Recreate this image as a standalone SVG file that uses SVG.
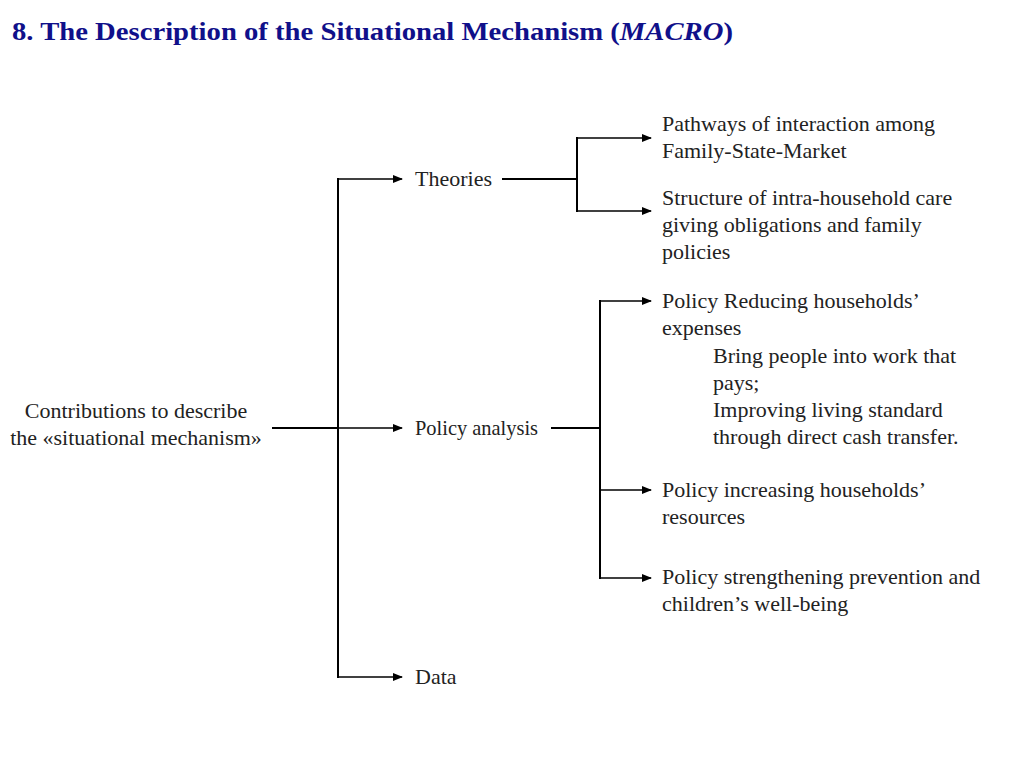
<svg xmlns="http://www.w3.org/2000/svg" width="1024" height="768" viewBox="0 0 1024 768">
<style>
.t{font-family:"Liberation Serif","Times New Roman",serif;font-size:22px;fill:#222}
.title{font-family:"Liberation Serif","Times New Roman",serif;font-size:26px;font-weight:bold;fill:#10108a}
.c{stroke:#000;stroke-width:2;fill:none}
.a{stroke:#000;stroke-width:1.5;fill:none;marker-end:url(#ah)}
</style>
<defs>
<marker id="ah" markerWidth="10" markerHeight="8" refX="9" refY="4" orient="auto" markerUnits="userSpaceOnUse">
<path d="M0,0 L10,4 L0,8 Z" fill="#000"/>
</marker>
</defs>
<rect width="1024" height="768" fill="#fff"/>
<text class="title" x="12" y="40" textLength="721" lengthAdjust="spacingAndGlyphs">8. The Description of the Situational Mechanism (<tspan font-style="italic">MACRO</tspan>)</text>
<g id="connectors">
<line class="c" x1="272" y1="428" x2="338" y2="428"/>
<line class="c" x1="338" y1="178" x2="338" y2="678"/>
<line class="a" x1="338" y1="179" x2="402" y2="179"/>
<line class="a" x1="338" y1="428" x2="402" y2="428"/>
<line class="a" x1="338" y1="677" x2="402" y2="677"/>
<line class="c" x1="502" y1="179" x2="577" y2="179"/>
<line class="c" x1="577" y1="137" x2="577" y2="212"/>
<line class="a" x1="577" y1="138" x2="651" y2="138"/>
<line class="a" x1="577" y1="211" x2="651" y2="211"/>
<line class="c" x1="551" y1="428" x2="600" y2="428"/>
<line class="c" x1="600" y1="300" x2="600" y2="579"/>
<line class="a" x1="600" y1="301" x2="651" y2="301"/>
<line class="a" x1="600" y1="490" x2="651" y2="490"/>
<line class="a" x1="600" y1="578" x2="651" y2="578"/>
</g>
<g id="root"><text class="t" text-anchor="middle"><tspan x="136" y="418">Contributions to describe</tspan><tspan x="136" y="445">the «situational mechanism»</tspan></text></g>
<g id="theories"><text class="t" x="415" y="186">Theories</text></g>
<g id="policy"><text class="t" x="415" y="435" textLength="123" lengthAdjust="spacingAndGlyphs">Policy analysis</text></g>
<g id="data"><text class="t" x="415" y="684">Data</text></g>
<g id="pathways"><text class="t"><tspan x="662" y="131">Pathways of interaction among</tspan><tspan x="662" y="158">Family-State-Market</tspan></text></g>
<g id="structure"><text class="t"><tspan x="662" y="205">Structure of intra-household care</tspan><tspan x="662" y="232">giving obligations and family</tspan><tspan x="662" y="259">policies</tspan></text></g>
<g id="reducing"><text class="t"><tspan x="662" y="308">Policy Reducing households’</tspan><tspan x="662" y="335">expenses</tspan><tspan x="713" y="363">Bring people into work that</tspan><tspan x="713" y="390">pays;</tspan><tspan x="713" y="417">Improving living standard</tspan><tspan x="713" y="444">through direct cash transfer.</tspan></text></g>
<g id="increasing"><text class="t"><tspan x="662" y="497">Policy increasing households’</tspan><tspan x="662" y="524">resources</tspan></text></g>
<g id="prevention"><text class="t"><tspan x="662" y="584">Policy strengthening prevention and</tspan><tspan x="662" y="611">children’s well-being</tspan></text></g>
</svg>
